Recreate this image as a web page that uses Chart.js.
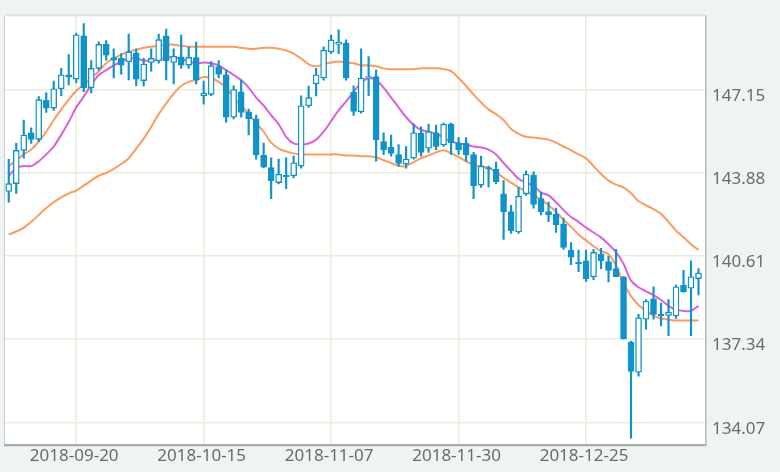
<!DOCTYPE html>
<html>
<head>
<meta charset="utf-8">
<script src="https://cdn.jsdelivr.net/npm/chart.js@4/dist/chart.umd.min.js"></script>
<style>
  html, body { margin: 0; padding: 0; background: #eef3f4; }
  #wrap { width: 780px; height: 472px; }
</style>
</head>
<body>
<div id="wrap"><canvas id="c" width="780" height="472"></canvas></div>
<script>
// ---- data ----
const dates = [
  "2018-09-07","2018-09-10","2018-09-11","2018-09-12","2018-09-13","2018-09-14",
  "2018-09-17","2018-09-18","2018-09-19","2018-09-20","2018-09-21",
  "2018-09-24","2018-09-25","2018-09-26","2018-09-27","2018-09-28",
  "2018-10-01","2018-10-02","2018-10-03","2018-10-04","2018-10-05",
  "2018-10-08","2018-10-09","2018-10-10","2018-10-11","2018-10-12",
  "2018-10-15","2018-10-16","2018-10-17","2018-10-18","2018-10-19",
  "2018-10-22","2018-10-23","2018-10-24","2018-10-25","2018-10-26",
  "2018-10-29","2018-10-30","2018-10-31","2018-11-01","2018-11-02",
  "2018-11-05","2018-11-06","2018-11-07","2018-11-08","2018-11-09",
  "2018-11-12","2018-11-13","2018-11-14","2018-11-15","2018-11-16",
  "2018-11-19","2018-11-20","2018-11-21","2018-11-22","2018-11-23",
  "2018-11-26","2018-11-27","2018-11-28","2018-11-29","2018-11-30",
  "2018-12-03","2018-12-04","2018-12-05","2018-12-06","2018-12-07",
  "2018-12-10","2018-12-11","2018-12-12","2018-12-13","2018-12-14",
  "2018-12-17","2018-12-18","2018-12-19","2018-12-20","2018-12-21",
  "2018-12-24","2018-12-25","2018-12-26","2018-12-27","2018-12-28",
  "2018-12-31","2019-01-01","2019-01-02","2019-01-03","2019-01-04",
  "2019-01-07","2019-01-08","2019-01-09","2019-01-10","2019-01-11",
  "2019-01-14","2019-01-15"
];
const openP = [
  143.14,143.45,144.76,145.45,145.19,146.72,146.42,147.18,147.73,147.56,
  149.26,147.22,147.98,148.92,148.40,148.37,148.24,148.59,147.50,148.21,
  148.28,149.26,148.21,148.43,148.11,148.40,146.90,146.96,148.05,147.73,
  146.06,147.06,146.27,146.00,144.56,144.08,143.49,143.78,143.76,144.14,
  146.51,147.37,147.60,148.63,148.92,148.97,147.05,146.27,147.60,147.66,
  145.10,144.88,144.59,144.22,144.46,145.44,144.84,145.45,144.97,145.79,
  145.05,145.04,144.59,143.39,144.08,144.01,143.05,142.35,141.55,143.05,
  143.78,142.86,142.35,142.25,141.86,140.84,140.36,140.42,139.79,140.68,
  140.39,140.11,139.79,137.22,136.04,138.12,138.92,138.31,138.27,138.25,
  139.46,139.34,139.72
];
const highP = [
  144.41,145.03,145.95,145.64,146.87,147.02,147.48,147.98,148.52,149.37,
  149.74,148.29,149.02,149.07,148.75,148.56,149.33,148.75,148.37,148.75,
  149.33,149.52,148.75,149.29,148.83,149.01,147.48,148.25,148.29,147.91,
  147.29,147.52,146.38,146.14,145.04,144.46,144.42,144.46,144.53,146.90,
  147.28,147.98,148.83,149.29,149.49,149.10,147.29,148.75,148.44,147.91,
  145.45,145.36,144.99,144.91,145.79,145.68,145.79,145.75,145.83,145.83,
  145.26,145.26,144.68,144.53,144.14,144.30,143.57,142.60,143.31,143.95,
  143.91,143.12,142.73,142.49,142.10,141.13,140.84,140.84,140.87,140.91,
  140.60,140.87,139.80,137.26,138.31,138.89,139.40,138.76,138.89,139.46,
  140.04,140.42,140.11
];
const lowP = [
  142.72,143.07,144.45,145.03,145.10,146.25,146.33,146.91,147.33,147.41,
  147.06,147.02,147.91,148.30,147.60,147.75,147.53,147.29,147.29,147.87,
  148.18,147.53,147.37,147.98,147.98,147.37,146.57,146.91,147.60,145.87,
  145.99,146.06,145.36,144.41,144.08,142.86,143.44,143.25,143.68,144.06,
  146.45,146.90,147.52,148.56,148.56,147.52,146.13,146.22,146.91,144.33,
  144.59,144.53,144.14,144.06,144.41,144.53,144.68,144.79,144.91,144.60,
  144.60,144.33,142.86,143.30,143.31,143.45,141.26,141.49,141.49,142.99,
  142.49,142.22,141.96,141.53,140.87,140.27,139.99,139.61,139.68,140.11,
  139.59,139.79,137.34,133.45,135.88,137.73,138.12,137.86,137.48,138.15,
  139.18,137.48,139.08
];
const closeP = [
  143.45,144.76,145.36,145.19,146.75,146.42,147.18,147.73,147.63,149.30,
  147.22,147.98,148.92,148.50,148.30,148.11,148.63,147.56,148.15,148.37,
  149.11,148.28,148.46,148.11,148.41,147.53,147.00,148.09,147.75,146.06,
  147.15,146.25,146.00,144.58,144.10,143.57,143.82,143.72,144.27,146.51,
  146.83,147.73,148.69,149.10,149.01,147.60,146.29,147.60,147.66,145.17,
  144.78,144.64,144.24,144.42,145.45,144.68,145.49,144.91,145.79,145.06,
  144.79,144.59,143.37,144.14,144.02,143.53,142.35,141.60,142.96,143.82,
  142.63,142.35,142.22,141.84,140.94,140.56,140.30,139.72,140.75,140.42,
  140.04,139.79,137.35,136.07,138.18,138.83,138.31,138.25,138.40,139.40,
  139.21,139.79,139.94
];
const maShort = [
  143.76,144.06,144.14,144.14,144.33,144.60,144.91,145.37,145.87,146.45,
  146.87,147.33,147.72,147.91,148.10,148.25,148.37,148.37,148.29,148.29,
  148.33,148.41,148.41,148.37,148.25,148.18,148.21,148.18,148.10,147.91,
  147.72,147.52,147.22,146.83,146.52,146.14,145.79,145.29,145.03,144.99,
  145.03,145.18,145.49,145.91,146.33,146.68,147.06,147.41,147.60,147.52,
  147.22,146.83,146.45,146.06,145.76,145.56,145.49,145.41,145.26,145.10,
  145.03,144.99,144.91,144.87,144.79,144.60,144.26,143.95,143.64,143.49,
  143.37,143.10,142.99,142.72,142.41,142.14,141.95,141.72,141.53,141.34,
  141.07,140.76,140.30,139.64,139.38,139.22,139.07,138.88,138.65,138.49,
  138.45,138.45,138.65
];
const bandUpper = [
  144.14,144.37,144.60,144.79,145.10,145.49,145.95,146.37,146.75,147.10,
  147.33,147.60,147.87,148.18,148.37,148.52,148.64,148.71,148.79,148.83,
  148.87,148.91,148.91,148.87,148.83,148.83,148.83,148.83,148.83,148.83,
  148.83,148.79,148.75,148.75,148.79,148.79,148.75,148.68,148.56,148.37,
  148.14,148.06,148.14,148.21,148.25,148.21,148.18,148.10,148.10,148.06,
  147.98,147.95,147.95,147.95,147.95,147.98,147.98,147.98,147.95,147.87,
  147.60,147.29,146.95,146.64,146.37,146.18,145.95,145.60,145.41,145.29,
  145.26,145.22,145.18,145.06,144.91,144.76,144.60,144.45,144.14,143.83,
  143.57,143.41,143.30,143.07,142.76,142.60,142.45,142.26,141.95,141.60,
  141.34,141.07,140.84
];
const bandLower = [
  141.45,141.57,141.72,141.95,142.22,142.49,142.72,142.91,143.07,143.18,
  143.37,143.57,143.76,143.87,144.03,144.22,144.45,144.83,145.22,145.68,
  146.18,146.60,146.99,147.29,147.45,147.52,147.64,147.60,147.45,147.22,
  146.83,146.52,146.18,145.83,145.49,145.06,144.83,144.72,144.64,144.60,
  144.60,144.60,144.60,144.60,144.60,144.56,144.56,144.53,144.53,144.49,
  144.37,144.26,144.14,144.14,144.30,144.45,144.56,144.68,144.76,144.64,
  144.49,144.33,144.18,144.14,144.06,143.91,143.68,143.49,143.30,143.14,
  142.99,142.83,142.60,142.34,142.03,141.76,141.45,141.22,140.99,140.80,
  140.68,140.22,139.53,139.03,138.68,138.45,138.26,138.15,138.11,138.07,
  138.07,138.07,138.07
];
const xTickIndex = [9, 26, 43, 60, 77];
const yTicks = [134.07, 137.34, 140.61, 143.88, 147.15];
const yMin = 133.18, yMax = 150.03;

// ---- styles ----
const BLUE = '#1192c8';
const ORANGE = '#fd9a5c';
const MAGENTA = '#dc5fdc';
const GRID = '#e7efdc';
const TEXT = '#6b6b6b';

const idx = dates.map((d, i) => i);
const wickData = idx.map(i => ({x: i, y: [lowP[i], highP[i]]}));
const bodyData = idx.map(i => ({x: i, y: [openP[i], closeP[i]]}));
const bodyFill = idx.map(i => closeP[i] >= openP[i] ? '#ffffff' : BLUE);
const lineOf = arr => arr.map((v, i) => ({x: i, y: v}));

const frame = {
  id: 'frame',
  beforeDraw(chart) {
    const {ctx, chartArea: a, width, height} = chart;
    ctx.save();
    ctx.fillStyle = '#eef3f4';
    ctx.fillRect(0, 0, width, height);
    ctx.fillStyle = '#ffffff';
    ctx.fillRect(a.left, a.top, a.right - a.left, a.bottom - a.top);
    ctx.restore();
  },
  afterDraw(chart) {
    const {ctx, chartArea: a} = chart;
    ctx.save();
    ctx.strokeStyle = '#dcdfe0';
    ctx.lineWidth = 2;
    ctx.beginPath();
    ctx.moveTo(a.left, a.top - 1);
    ctx.lineTo(a.right, a.top - 1);
    ctx.stroke();
    ctx.strokeStyle = '#c9cccc';
    ctx.lineWidth = 1;
    ctx.beginPath();
    ctx.moveTo(a.left - 0.5, a.top);
    ctx.lineTo(a.left - 0.5, a.bottom);
    ctx.stroke();
    ctx.restore();
  }
};

new Chart(document.getElementById('c'), {
  type: 'bar',
  data: {
    datasets: [
      {
        type: 'bar', label: 'body', data: bodyData, order: 0, grouped: false,
        barThickness: 6, backgroundColor: bodyFill, borderColor: BLUE,
        borderWidth: 1.4, borderSkipped: false
      },
      {
        type: 'bar', label: 'wick', data: wickData, order: 1, grouped: false,
        barThickness: 1.5, backgroundColor: BLUE, borderWidth: 0
      },
      {
        type: 'line', label: 'short', data: lineOf(maShort), order: 2,
        borderColor: MAGENTA, borderWidth: 2, pointRadius: 0, tension: 0.3, fill: false
      },
      {
        type: 'line', label: 'upper', data: lineOf(bandUpper), order: 3,
        borderColor: ORANGE, borderWidth: 2, pointRadius: 0, tension: 0.3, fill: false
      },
      {
        type: 'line', label: 'lower', data: lineOf(bandLower), order: 3,
        borderColor: ORANGE, borderWidth: 2, pointRadius: 0, tension: 0.3, fill: false
      }
    ]
  },
  options: {
    responsive: false,
    animation: false,
    devicePixelRatio: 1,
    layout: { padding: { left: 5, top: 7, right: 0, bottom: 0 } },
    plugins: { legend: { display: false }, tooltip: { enabled: false } },
    scales: {
      x: {
        type: 'linear', min: -0.5, max: 93, offset: false,
        afterBuildTicks: s => { s.ticks = xTickIndex.map(v => ({value: v})); },
        afterFit: s => { s.height = 27; },
        grid: { color: GRID, lineWidth: 1.6, drawTicks: false, offset: false },
        border: { display: true, color: '#a9abab', width: 2.2 },
        ticks: {
          autoSkip: false, maxRotation: 0, padding: 1, labelOffset: -2,
          color: TEXT, font: { family: 'Noto Sans', size: 17 },
          callback: v => dates[v]
        }
      },
      y: {
        type: 'linear', position: 'right', min: yMin, max: yMax,
        afterBuildTicks: s => { s.ticks = yTicks.map(v => ({value: v})); },
        afterFit: s => { s.width = 74; },
        grid: { color: GRID, lineWidth: 1.6, drawTicks: false },
        border: { display: true, color: '#b9bcbc', width: 1.6 },
        ticks: {
          padding: 6, labelOffset: 6.5,
          color: TEXT, font: { family: 'Noto Sans', size: 17 },
          callback: v => v.toFixed(2)
        }
      }
    }
  },
  plugins: [frame]
});
</script>
</body>
</html>
